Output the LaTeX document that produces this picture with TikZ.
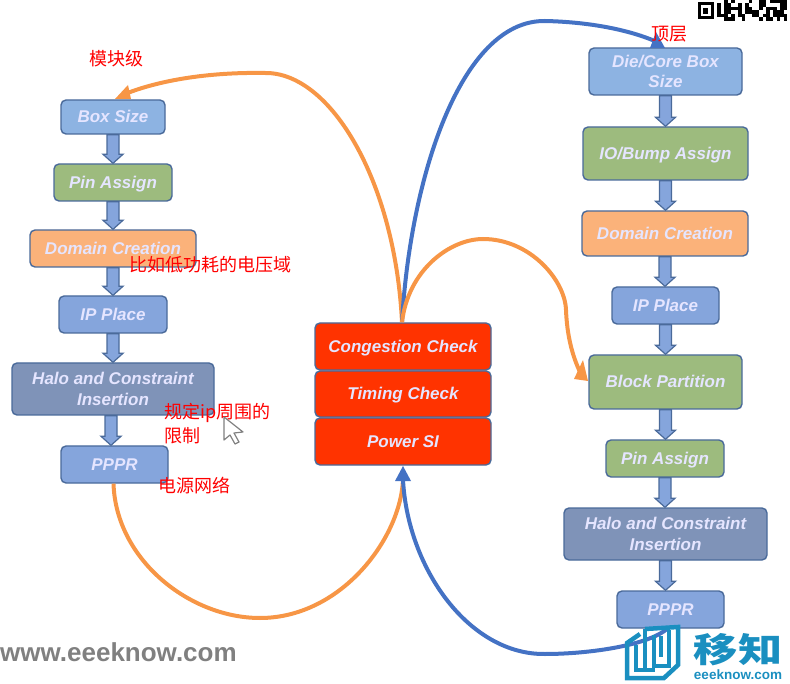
\documentclass[tikz,border=0pt]{standalone}
\usepackage{fontspec}
\setmainfont{Liberation Sans}
\newfontfamily\cjk{Noto Sans CJK SC}
\usetikzlibrary{calc,arrows.meta}
\definecolor{bl1}{HTML}{8DB3E2}
\definecolor{bl2}{HTML}{85A5DC}
\definecolor{gr}{HTML}{9DBB7E}
\definecolor{og}{HTML}{FBB27A}
\definecolor{sl}{HTML}{7F93B8}
\definecolor{rd}{HTML}{FF3300}
\definecolor{edge}{HTML}{4A6A9A}
\definecolor{curveO}{HTML}{F79646}
\definecolor{curveB}{HTML}{4472C4}
\definecolor{teal}{HTML}{1A8FC0}
\tikzset{
  fbox/.style={draw=edge,line width=1.4pt,rounded corners=5pt,inner sep=0pt,align=center,
    text=white!90!blue,font=\fontsize{17}{20.5}\selectfont\bfseries\itshape},
  note/.style={text=red,font=\cjk\fontsize{18}{24}\selectfont,inner sep=0pt,anchor=west,align=left},
  flowO/.style={draw=curveO,line width=4pt},
  flowB/.style={draw=curveB,line width=4pt},
  tipO/.style={fill=curveO,draw=none},
  tipB/.style={fill=curveB,draw=none},
}
\newcommand{\dn}[1]{\raisebox{-6pt}[0pt][0pt]{#1}}
\newcommand{\pbox}[7]{\node[fbox,fill=#2,minimum width=#5pt-#3pt,minimum height=#6pt-#4pt] (#1) at ({(#3+#5)/2},{(#4+#6)/2}) {#7};}
\newcommand{\barrow}[3][0]{%
  \path let \p1=(#2.south),\p2=(#3.north) in
   [draw=edge,fill=bl2,line width=1.2pt,line join=miter]
   (\x1+#1pt-6pt,\y1) -- (\x1+#1pt+6pt,\y1) -- (\x1+#1pt+6pt,\y2+9pt) -- (\x1+#1pt+10pt,\y2+9pt)
   -- (\x1+#1pt,\y2) -- (\x1+#1pt-10pt,\y2+9pt) -- (\x1+#1pt-6pt,\y2+9pt) -- cycle;}
\begin{document}
\begin{tikzpicture}[x=1pt,y=-1pt]
\useasboundingbox (0,0) rectangle (790,684);
\pbox{a1}{bl1}{61}{100}{165}{134}{\dn{Box Size}}
\pbox{a2}{gr}{54}{164}{172}{201}{\dn{Pin Assign}}
\pbox{a3}{og}{30}{230}{196}{267}{\dn{Domain Creation}}
\pbox{a4}{bl2}{59}{296}{167}{333}{\dn{IP Place}}
\pbox{a5}{sl}{12}{363}{214}{415}{Halo and Constraint\\Insertion}
\pbox{a6}{bl2}{61}{446}{168}{483}{\dn{PPPR}}
\pbox{b1}{bl1}{589}{48}{742}{95}{Die/Core Box\\Size}
\pbox{b2}{gr}{583}{127}{748}{180}{\dn{IO/Bump Assign}}
\pbox{b3}{og}{582}{211}{748}{256}{\dn{Domain Creation}}
\pbox{b4}{bl2}{612}{287}{719}{324}{\dn{IP Place}}
\pbox{b5}{gr}{589}{355}{742}{409}{\dn{Block Partition}}
\pbox{b6}{gr}{606}{440}{724}{477}{\dn{Pin Assign}}
\pbox{b7}{sl}{564}{508}{767}{560}{Halo and Constraint\\Insertion}
\pbox{b8}{bl2}{617}{591}{724}{628}{\dn{PPPR}}
\pbox{c1}{rd}{315}{323}{491}{370}{\dn{Congestion Check}}
\pbox{c2}{rd}{315}{371}{491}{417}{\dn{Timing Check}}
\pbox{c3}{rd}{315}{418}{491}{465}{\dn{Power SI}}
\barrow{a1}{a2}\barrow{a2}{a3}\barrow{a3}{a4}\barrow{a4}{a5}\barrow[-2]{a5}{a6}
\barrow{b1}{b2}\barrow{b2}{b3}\barrow{b3}{b4}\barrow{b4}{b5}\barrow{b5}{b6}\barrow{b6}{b7}\barrow{b7}{b8}
% orange and blue flows
\draw[flowO] (c1.north) ++(-1,0) .. controls (395,180) and (330,72) .. (265,73) .. controls (210,72) and (160,80) .. (125,94);
\fill[tipO] (115,99) -- (128,85) -- (131,99) -- cycle;
\draw[flowB] (c1.north) ++(-1,0) .. controls (410,180) and (460,20) .. (545,21) .. controls (590,22) and (630,30) .. (657,42);
\fill[tipB] (665,48) -- (650,48) -- (656,32) -- cycle;
\draw[flowO] (c1.north) ++(-1,0) .. controls (408,270) and (450,239) .. (483,239) .. controls (530,239) and (565,280) .. (566,310) .. controls (567,335) and (572,355) .. (580,372);
\fill[tipO] (588,381) -- (574,379) -- (583,360) -- cycle;
\draw[flowO] (a6.south) ++(-1,0) .. controls (116,560) and (190,618) .. (260,618) .. controls (340,618) and (400,540) .. (403,480);
\draw[flowB] (403,480) .. controls (408,570) and (470,655) .. (545,654) .. controls (590,654) and (650,645) .. (668,628);
\fill[tipB] (403,466) -- (395,481) -- (411,481) -- cycle;
% notes
\node[note] (n1) at (89,59) {模块级};
\node[note] (n2) at (129,265) {比如低功耗的电压域};
\node[note,text width=112pt] (n3) at (164,424) {规定ip周围的\\限制};
\node[note] (n4) at (158,486) {电源网络};
\node[note] (n5) at (651,34) {顶层};
% cursor
\draw[draw=gray,fill=white,line width=1.2pt,line join=round] (224,417) -- (224,440) -- (230,435) -- (235,444) -- (239,442) -- (234,433) -- (243,432) -- cycle;
% watermark
\node[inner sep=0pt,anchor=west,text=gray,font=\fontsize{26}{26}\selectfont\bfseries] (w) at (0,652) {www.eeeknow.com};
% logo
\begin{scope}[draw=teal,line width=4.5pt,line join=miter]
\draw (645,629) -- (678,627) -- (678,665) -- (664,678) -- (627,678) -- (627,643) -- (640,634);
\draw (645,629) -- (645,668);
\draw (636,645) -- (636,670) -- (655,670);
\draw (654,635) -- (654,666) -- (669,666) -- (669,630);
\draw (661,636) -- (661,657);
\end{scope}
\node[inner sep=0pt,text=teal,xscale=1.3,transform shape,font=\cjk\fontsize{34}{34}\selectfont\bfseries] (l1) at (738,650) {移知};
\node[inner sep=0pt,text=teal,font=\fontsize{13.5}{14}\selectfont\bfseries] (l2) at (738,675) {eeeknow.com};
% QR
\draw[black,line width=3pt] (699,4) rectangle (712,18);
\fill[black] (703,8) rectangle (708,14);
\pgfmathsetseed{7}
\foreach \c in {0,...,19} \foreach \r in {0,...,5} {
  \pgfmathparse{rnd<0.58?1:0}
  \ifnum\pgfmathresult=1
    \fill[black] ({717+3.5*\c},{3.5*\r}) rectangle ++(3.5,3.5);
  \fi
}
\end{tikzpicture}
\end{document}
